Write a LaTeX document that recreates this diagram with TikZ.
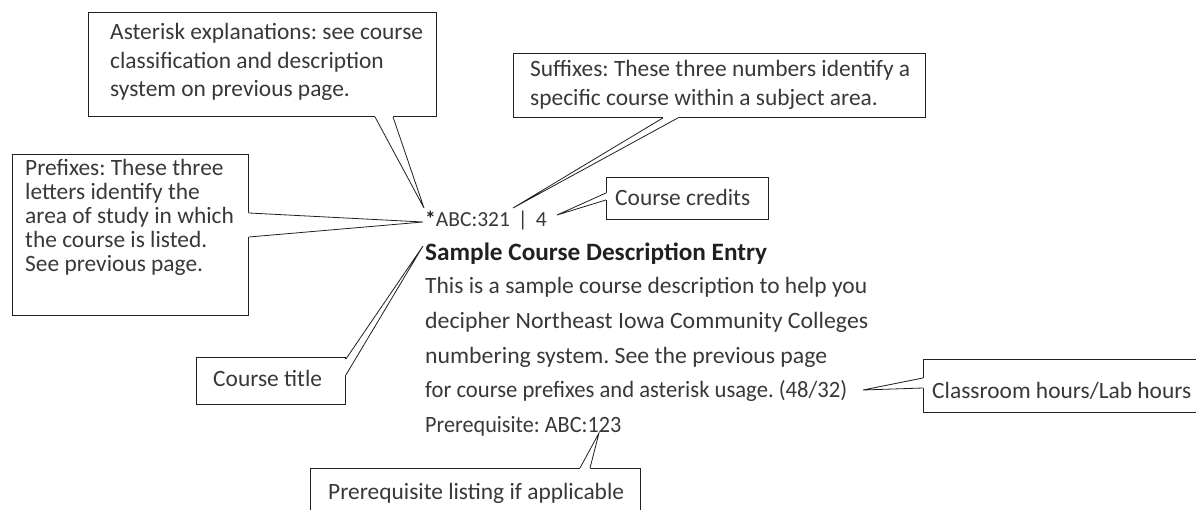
\documentclass[tikz,border=0pt]{standalone}
\usepackage{graphicx}
\usepackage{fontspec}
\setmainfont{Carlito}
\frenchspacing
\usetikzlibrary{calc}
\definecolor{txtgray}{HTML}{383838}
\definecolor{inkblack}{HTML}{231F20}
\newcommand{\fitline}[2]{\resizebox{#1}{\height}{#2}}
\tikzset{
  box/.style={draw=inkblack, line width=0.9pt, anchor=north west, inner sep=0pt},
  wedgeline/.style={draw=inkblack, line width=0.8pt, line join=miter},
  lbl/.style={font=\fontsize{23.4}{28}\selectfont, text=txtgray, inner sep=0pt, anchor=base west},
  ttlfont/.style={font=\fontsize{25}{30}\selectfont\bfseries, text=inkblack, inner sep=0pt, anchor=base west}
}
\begin{document}
\begin{tikzpicture}[x=1pt,y=-1pt]
\useasboundingbox (0,0) rectangle (1196,510);
\clip (0,0) rectangle (1196,510);

% boxes
\node[box, minimum width=348pt, minimum height=104pt] (ast) at (88,12) {};
\node[box, minimum width=412pt, minimum height=64pt] (suf) at (513,53) {};
\node[box, minimum width=236pt, minimum height=161pt] (pre) at (12,154) {};
\node[box, minimum width=162pt, minimum height=42pt] (cre) at (606,177) {};
\node[box, minimum width=149pt, minimum height=47pt] (ttl) at (196,357) {};
\node[box, minimum width=296pt, minimum height=53pt] (cls) at (923,359) {};
\node[box, minimum width=330pt, minimum height=62pt] (prq) at (310,468) {};

% wedge points
\coordinate (astA) at ($(ast.south west)+(287,0)$);
\coordinate (astB) at ($(ast.south west)+(305,0)$);
\coordinate (astTip) at (424,208);
\coordinate (sufA) at ($(suf.south west)+(150,0)$);
\coordinate (sufB) at ($(suf.south west)+(165,0)$);
\coordinate (sufTip) at (513,208);
\coordinate (preA) at ($(pre.north east)+(0,59)$);
\coordinate (preB) at ($(pre.north east)+(0,83)$);
\coordinate (preTip) at (423,222);
\coordinate (creA) at ($(cre.north west)+(0,16)$);
\coordinate (creB) at ($(cre.north west)+(0,23)$);
\coordinate (creTip) at (557,215);
\coordinate (ttlA) at ($(ttl.north east)+(0,2)$);
\coordinate (ttlB) at ($(ttl.north east)+(0,18)$);
\coordinate (ttlTip) at (423,246);
\coordinate (clsA) at ($(cls.north west)+(0,19)$);
\coordinate (clsB) at ($(cls.north west)+(0,29)$);
\coordinate (clsTip) at (863,390);
\coordinate (prqA) at ($(prq.north west)+(270,0)$);
\coordinate (prqB) at ($(prq.north west)+(280,0)$);
\coordinate (prqTip) at (599,433);

% wedges: white fill over border, then two sides
\fill[white] ($(astA)+(0,-2)$) -- (astA) -- (astTip) -- (astB) -- ($(astB)+(0,-2)$) -- cycle;
\draw[wedgeline] (astA) -- (astTip) -- (astB);
\fill[white] ($(sufA)+(0,-2)$) -- (sufA) -- (sufTip) -- (sufB) -- ($(sufB)+(0,-2)$) -- cycle;
\draw[wedgeline] (sufA) -- (sufTip) -- (sufB);
\fill[white] ($(preA)+(-2,0)$) -- (preA) -- (preTip) -- (preB) -- ($(preB)+(-2,0)$) -- cycle;
\draw[wedgeline] (preA) -- (preTip) -- (preB);
\fill[white] ($(creA)+(2,0)$) -- (creA) -- (creTip) -- (creB) -- ($(creB)+(2,0)$) -- cycle;
\draw[wedgeline] (creA) -- (creTip) -- (creB);
\fill[white] ($(ttlA)+(-2,0)$) -- (ttlA) -- (ttlTip) -- (ttlB) -- ($(ttlB)+(-2,0)$) -- cycle;
\draw[wedgeline] (ttlA) -- (ttlTip) -- (ttlB);
\fill[white] ($(clsA)+(2,0)$) -- (clsA) -- (clsTip) -- (clsB) -- ($(clsB)+(2,0)$) -- cycle;
\draw[wedgeline] (clsA) -- (clsTip) -- (clsB);
\fill[white] ($(prqA)+(0,2)$) -- (prqA) -- (prqTip) -- (prqB) -- ($(prqB)+(0,2)$) -- cycle;
\draw[wedgeline] (prqA) -- (prqTip) -- (prqB);

% callout texts
\node[lbl] (astT1) at (110,40) {Asterisk explanations: see course};
\node[lbl] (astT2) at (110,69) {classification and description};
\node[lbl] (astT3) at (110,97) {system on previous page.};
\node[lbl] (sufT1) at (530,77) {Suffixes: These three numbers identify a};
\node[lbl] (sufT2) at (530,106) {specific course within a subject area.};
\node[lbl] (preT1) at (25,176) {Prefixes: These three};
\node[lbl] (preT2) at (25,200) {letters identify the};
\node[lbl] (preT3) at (25,224) {area of study in which};
\node[lbl] (preT4) at (25,248) {the course is listed.};
\node[lbl] (preT5) at (25,272) {See previous page.};
\node[lbl] (creT) at (615,206) {Course credits};
\node[lbl] (ttlT) at (213,386) {Course title};
\node[lbl] (clsT) at (932,398) {Classroom hours/Lab hours};
\node[lbl] (prqT) at (328,499) {Prerequisite listing if applicable};

% sample entry
\node[lbl, font=\fontsize{21.5}{26}\selectfont] (code) at (425,227) {{\color{inkblack}\bfseries *}ABC:321\hspace{8pt}|\hspace{8pt}4};
\node[ttlfont] (title) at (425,261) {\fitline{342pt}{Sample Course Description Entry}};
\node[lbl] (body1) at (425,294) {\fitline{442pt}{This is a sample course description to help you}};
\node[lbl] (body2) at (425,328) {\fitline{443pt}{decipher Northeast Iowa Community Colleges}};
\node[lbl] (body3) at (425,363) {\fitline{402pt}{numbering system. See the previous page}};
\node[lbl] (body4) at (425,397) {\fitline{422pt}{for course prefixes and asterisk usage. (48/32)}};
\node[lbl] (body5) at (425,432) {\fitline{196pt}{Prerequisite: ABC:123}};
\end{tikzpicture}
\end{document}
